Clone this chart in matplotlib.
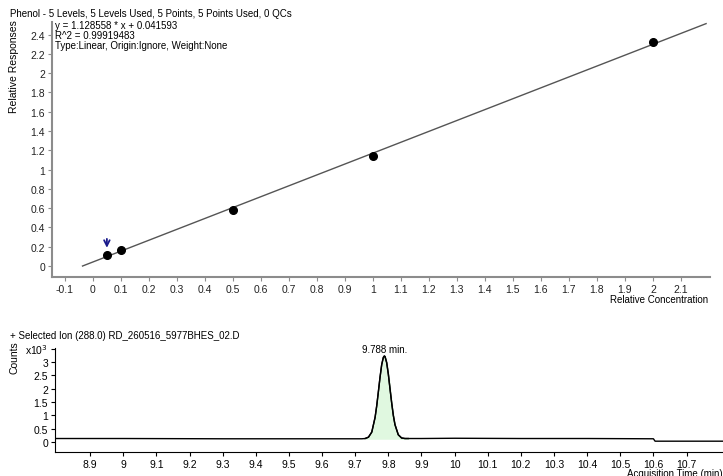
import numpy as np
import matplotlib.pyplot as plt
from matplotlib.ticker import FuncFormatter

plt.rcParams['font.family'] = ['Liberation Sans', 'DejaVu Sans']

# calibration data
conc = [0.05, 0.1, 0.5, 1.0, 2.0]
resp = [0.11, 0.17, 0.58, 1.14, 2.32]
slope = 1.128558
intercept = 0.041593
fit_range = [-0.037, 2.19]

# chromatogram (counts x10^3)
rt = [8.79, 9.0, 9.3, 9.6, 9.72, 9.73, 9.74, 9.75, 9.76, 9.765, 9.77, 9.775,
      9.78, 9.785, 9.788, 9.79, 9.795, 9.80, 9.805, 9.81, 9.815, 9.82, 9.83,
      9.84, 9.85, 9.86, 9.9, 10.0, 10.2, 10.4, 10.6, 10.605, 10.81]
counts = [0.13, 0.13, 0.12, 0.12, 0.12, 0.13, 0.18, 0.37, 0.92, 1.36, 1.89,
          2.43, 2.90, 3.17, 3.22, 3.20, 2.97, 2.54, 2.00, 1.47, 1.00, 0.65,
          0.27, 0.15, 0.13, 0.13, 0.13, 0.14, 0.13, 0.13, 0.12, 0.03, 0.03]
peak_rt = 9.788

fig = plt.figure(figsize=(7.23, 4.77), dpi=100)
W, H = 723.0, 477.0

def box(l, t, r, b):
    return [l / W, 1 - b / H, (r - l) / W, (b - t) / H]

fs = 7.5
fs_small = 7.0
grey = '#8c8c8c'
fmt = FuncFormatter(lambda v, p: '%g' % round(v, 1))

# ---- calibration curve ----
ax = fig.add_axes(box(52, 23, 710, 278))
xx = np.array(fit_range)
ax.plot(xx, slope * xx + intercept, color='#555555', lw=1)
ax.plot(conc, resp, 'o', color='black', ms=5.5)
ax.annotate('', xy=(0.05, 0.16), xytext=(0.05, 0.31),
            arrowprops=dict(arrowstyle='->', color='#1a1a8c', lw=1.3))
ax.set_xlim(-0.146, 2.204)
ax.set_ylim(-0.114, 2.53)
ax.set_xticks(np.round(np.arange(-0.1, 2.15, 0.1), 1))
ax.set_yticks(np.round(np.arange(0, 2.45, 0.2), 1))
ax.xaxis.set_major_formatter(fmt)
ax.yaxis.set_major_formatter(fmt)
for s in ['top', 'right']:
    ax.spines[s].set_visible(False)
for s in ['left', 'bottom']:
    ax.spines[s].set_color(grey)
    ax.spines[s].set_linewidth(1.5)
ax.tick_params(labelsize=fs, length=3, color=grey, labelcolor='#222222', pad=2)

fig.text(55 / W, 1 - 21 / H, 'y = 1.128558 * x + 0.041593\nR^2 = 0.99919483\n'
         'Type:Linear, Origin:Ignore, Weight:None',
         fontsize=fs_small, va='top', ha='left', linespacing=1.0)
fig.text(10 / W, 1 - 14 / H,
         'Phenol - 5 Levels, 5 Levels Used, 5 Points, 5 Points Used, 0 QCs',
         fontsize=fs_small, va='center', ha='left')
fig.text(14 / W, 1 - 20 / H, 'Relative Responses', rotation=90,
         fontsize=fs, va='top', ha='center')
fig.text(708 / W, 1 - 300 / H, 'Relative Concentration',
         fontsize=fs_small, va='center', ha='right')

# ---- chromatogram ----
ax2 = fig.add_axes(box(55, 349, 723, 453))
ax2.plot(rt, counts, color='black', lw=1)
r = np.array(rt)
c = np.array(counts)
m = (r >= 9.73) & (r <= 9.86)
ax2.fill_between(r[m], 0.13, c[m], color='#e0f8e0')
ax2.plot(r[m], c[m], color='black', lw=1)
ax2.text(peak_rt, 3.3, '%.3f min.' % peak_rt, fontsize=fs_small,
         ha='center', va='bottom')
ax2.set_xlim(8.794, 10.81)
ax2.set_ylim(-0.375, 3.52)
ax2.set_xticks(np.round(np.arange(8.9, 10.75, 0.1), 1))
ax2.set_yticks([0, 0.5, 1, 1.5, 2, 2.5, 3, 3.5])
ax2.set_yticklabels(['0', '0.5', '1', '1.5', '2', '2.5', '3', 'x10$^{3}$'])
ax2.xaxis.set_major_formatter(fmt)
for s in ['top', 'right']:
    ax2.spines[s].set_visible(False)
ax2.tick_params(labelsize=fs, length=3, pad=2)
fig.text(10 / W, 1 - 336 / H, '+ Selected Ion (288.0) RD_260516_5977BHES_02.D',
         fontsize=fs_small, va='center', ha='left')
fig.text(14 / W, 1 - 341 / H, 'Counts', rotation=90,
         fontsize=fs, va='top', ha='center')
fig.text(627 / W, 1 - 474 / H, 'Acquisition Time (min)',
         fontsize=fs_small, va='center', ha='left')

fig.savefig('out.png', dpi=100)
